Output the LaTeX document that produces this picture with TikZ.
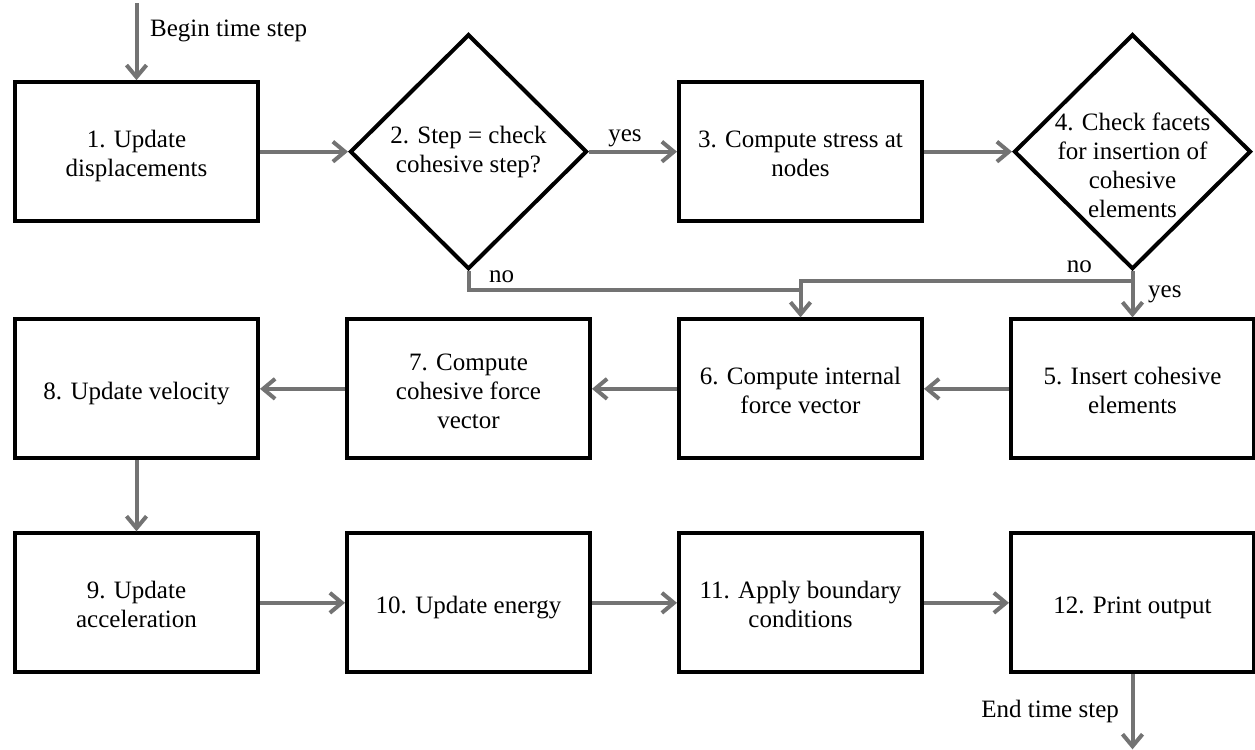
\documentclass[tikz,border=0pt]{standalone}
\usepackage{fontspec}
\setmainfont{Liberation Serif}
\usetikzlibrary{arrows.meta,positioning,shapes.geometric}
\definecolor{linkgray}{RGB}{115,115,115}
% keeps the first line of a box at the same height
\newcommand{\linelift}{\rule{0pt}{13.5pt}}

\begin{document}
\begin{tikzpicture}[->,>={Straight Barb[length=6pt,width=10pt]}
  ,line width=2pt
  ,font=\fontsize{12.5}{14.5}\selectfont]
  \tikzset{
    stepbox/.style={draw,rectangle,anchor=center,minimum width=121.5pt,
      minimum height=69.5pt,align=center,inner sep=2pt,
      execute at end node={\rule[-3pt]{0pt}{3pt}}},
    decision/.style={draw,diamond,anchor=center,minimum width=118.5pt,
      minimum height=117.5pt,inner sep=0pt},
    asktext/.style={align=center,inner sep=0pt},
    link/.style={draw=linkgray}}

  \useasboundingbox (0,0) rectangle (627.5pt,-375pt);

  \matrix (m) [row sep=23.5pt,column sep=42.5pt
  ,inner sep=0pt,anchor=north west] at (5.5pt,-15.5pt)
  {
    % top row, left to right
    \node[stepbox](upd1) {\linelift 1. Update\\displacements};&
    \node[decision](chk2) {};&
    \node[stepbox](str3) {\linelift 3. Compute stress at\\nodes};&
    \node[decision](chk4) {};\\
    % middle row, runs right to left
    \node[stepbox](vel8) {\linelift 8. Update velocity};&
    \node[stepbox](coh7) {\linelift 7. Compute\\cohesive force\\vector};&
    \node[stepbox](frc6) {\linelift 6. Compute internal\\force vector};&
    \node[stepbox](ins5) {\linelift 5. Insert cohesive\\elements};\\[12pt]
    % bottom row
    \node[stepbox](acc9) {\linelift 9. Update\\acceleration};&
    \node[stepbox](en10) {\linelift 10. Update energy};&
    \node[stepbox](bc11) {\linelift 11. Apply boundary\\conditions};&
    \node[stepbox](out12) {\linelift 12. Print output};\\
  };

  % questions written into the diamonds
  \node[asktext] (ask2) at (chk2) {2. Step = check\\cohesive step?};
  \node[asktext,yshift=-7pt] (ask4) at (chk4)
  {4. Check facets\\for insertion of\\cohesive\\elements};

  \coordinate[above=38.5pt of upd1] (tbeg);
  \coordinate[below=37.5pt of out12] (tend);
  \coordinate[below=9.5pt of chk2] (no2);
  \coordinate[below=5pt of chk4] (no4);

  \path[every edge/.style=link]
  (tbeg) edge node[pos=.36,right=2.5pt] {Begin time step} (upd1)
  (upd1) edge (chk2)
  (chk2) edge node[above=-2pt,xshift=-4pt] {yes} (str3)
  (str3) edge (chk4)
  (chk4) edge node[right=3.5pt] {yes} (ins5)
  (ins5) edge (frc6)
  (frc6) edge (coh7)
  (coh7) edge (vel8)
  (vel8) edge (acc9)
  (acc9) edge (en10)
  (en10) edge (bc11)
  (bc11) edge (out12)
  (out12) edge node[left=2.5pt] {End time step} (tend);

  % the two "no" branches join above box 6
  \draw[link,-] (chk2) -- node[pos=.3,right=6pt] {no} (no2) -- (no2 -| frc6);
  \draw[link] (chk4) -- (no4) -- node[above,pos=.16] {no} (no4 -| frc6) -- (frc6);

\end{tikzpicture}
\end{document}
